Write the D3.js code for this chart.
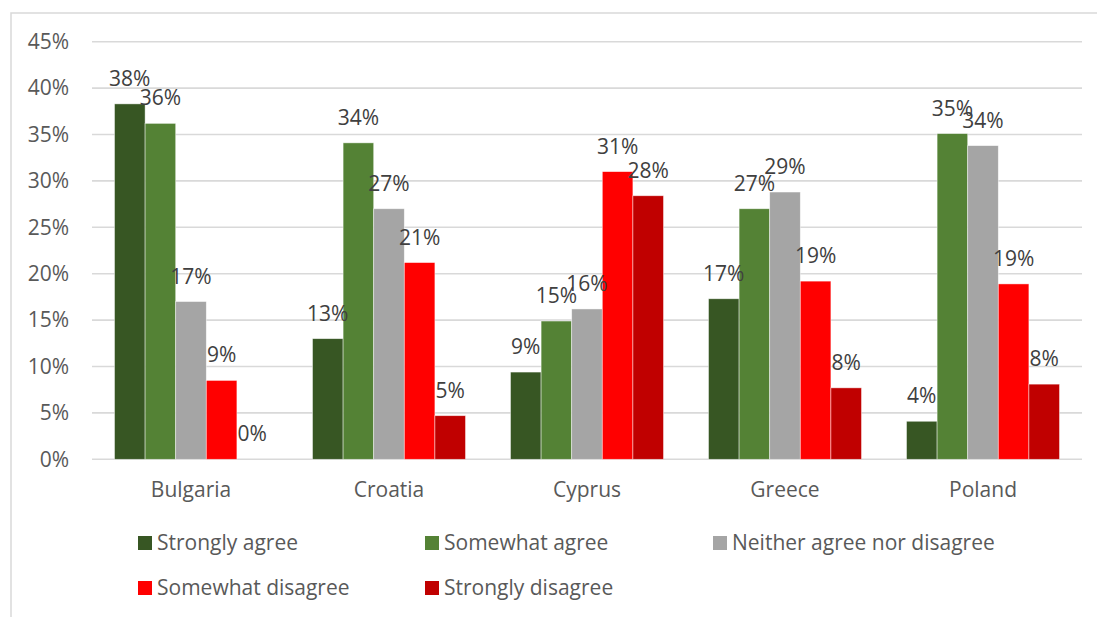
<!DOCTYPE html>
<html><head><meta charset="utf-8">
<script src="https://cdn.jsdelivr.net/npm/d3@7"></script>
<style>
body{margin:0;background:#fff;}
svg text{font-family:"Open Sans", "Noto Sans", sans-serif;}
</style></head>
<body><svg id="c" width="1097" height="617"></svg>
<script>
const categories = ["Bulgaria","Croatia","Cyprus","Greece","Poland"];
const seriesNames = ["Strongly agree","Somewhat agree","Neither agree nor disagree","Somewhat disagree","Strongly disagree"];
const seriesColors = ["#375623","#548235","#A5A5A5","#FF0000","#C00000"];
const stronglyAgree    = [38.3, 13.0,  9.4, 17.3,  4.1];
const somewhatAgree    = [36.2, 34.1, 14.9, 27.0, 35.1];
const neither          = [17.0, 27.0, 16.2, 28.8, 33.8];
const somewhatDisagree = [ 8.5, 21.2, 31.0, 19.2, 18.9];
const stronglyDisagree = [ 0.0,  4.7, 28.4,  7.7,  8.1];
const yTicks = [0,5,10,15,20,25,30,35,40,45];

const seriesValues = [stronglyAgree, somewhatAgree, neither, somewhatDisagree, stronglyDisagree];
const svg = d3.select("#c");
const FS = 21;

// chart border
svg.append("rect").attr("x",11).attr("y",13).attr("width",1200).attr("height",700)
  .attr("fill","none").attr("stroke","#d9d9d9").attr("stroke-width",1.5);

const pLeft=92, pRight=1082, pTop=41.7, pBottom=459.3;
const y = d3.scaleLinear().domain([0,45]).range([pBottom, pTop]);
const x0 = d3.scaleBand().domain(categories).range([pLeft,pRight]).padding(0);
const x1 = d3.scaleBand().domain(d3.range(seriesNames.length)).range([22.5, x0.bandwidth()-22.5]).padding(0);

// gridlines
svg.append("g").selectAll("line").data(yTicks).join("line")
  .attr("x1",pLeft).attr("x2",pRight).attr("y1",d=>y(d)).attr("y2",d=>y(d))
  .attr("stroke","#d9d9d9").attr("stroke-width",1.6);

// y axis labels
svg.append("g").selectAll("text").data(yTicks).join("text")
  .attr("x",69).attr("y",d=>y(d)).attr("dy","0.35em").attr("text-anchor","end")
  .attr("font-size",FS).attr("fill","#595959").text(d=>d+"%");

// bars
const g = svg.append("g");
categories.forEach((c,ci)=>{
  seriesValues.forEach((vals,si)=>{
    const v = vals[ci];
    const bx = x0(c)+x1(si);
    g.append("rect").attr("x",bx).attr("y",y(v)).attr("width",x1.bandwidth())
      .attr("height",pBottom-y(v)).attr("fill",seriesColors[si])
      .attr("stroke","#ffffff").attr("stroke-opacity",0.6).attr("stroke-width",0.75);
  });
});
// labels
categories.forEach((c,ci)=>{
  seriesValues.forEach((vals,si)=>{
    const v = vals[ci];
    const bx = x0(c)+x1(si)+x1.bandwidth()/2;
    g.append("text").attr("x",bx).attr("y",y(v)-18).attr("text-anchor","middle")
      .attr("font-size",FS).attr("fill","#404040").text(Math.round(v)+"%");
  });
});

// category labels
svg.append("g").selectAll("text").data(categories).join("text")
  .attr("x",d=>x0(d)+x0.bandwidth()/2).attr("y",497).attr("text-anchor","middle")
  .attr("font-size",FS).attr("fill","#595959").text(d=>d);

// legend
const legendPos = [[138,543],[425,543],[713,543],[138,588],[425,588]];
seriesNames.forEach((n,i)=>{
  const [lx,ly]=legendPos[i];
  svg.append("rect").attr("x",lx).attr("y",ly-7).attr("width",14).attr("height",14).attr("fill",seriesColors[i]);
  svg.append("text").attr("x",lx+19).attr("y",ly+7).attr("font-size",FS).attr("fill","#595959").text(n);
});
</script></body></html>
